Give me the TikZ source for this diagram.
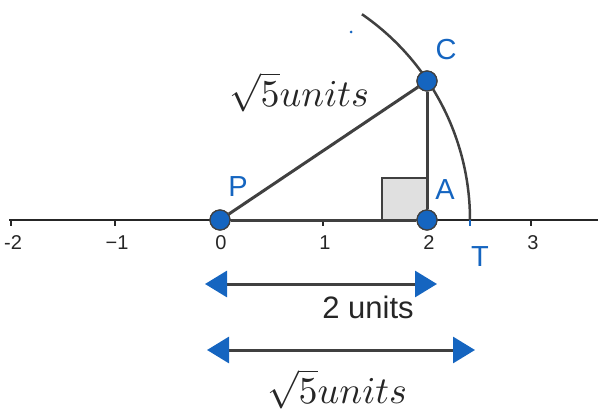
\documentclass[tikz,border=0pt]{standalone}
\usepackage{fontspec}
\setmainfont{Liberation Sans}
\usetikzlibrary{arrows.meta}
\definecolor{ptblue}{HTML}{1565C0}
\definecolor{lgray}{HTML}{404040}
\begin{document}
\begin{tikzpicture}[x=1pt,y=-1pt,
  pt/.style={circle,fill=ptblue,draw=lgray,line width=1.2pt,minimum size=20pt,inner sep=0pt},
  lbl/.style={text=ptblue,font=\fontsize{29}{32}\selectfont,inner sep=0pt},
  tick/.style={font=\fontsize{20}{22}\selectfont,inner sep=0pt,text=black!85},
  seg/.style={draw=lgray,line width=3pt},
  dimarrow/.style={lgray,line width=3pt,{Triangle[length=22pt,width=26pt,color=ptblue]}-{Triangle[length=22pt,width=26pt,color=ptblue]}},
  mathlbl/.style={scale=3.8,inner sep=0pt,text=black!85}]
\useasboundingbox (0,0) rectangle (598,412);
% axis
\coordinate (axL) at (9,220);
\coordinate (axR) at (598,220);
\draw[black!85,line width=1.3pt] (axL) -- (axR);
\foreach \x/\t in {11/{-2},115/{−1},219/0,323/1,427/2,531/3}{
  \draw[black!85,line width=1.3pt] (\x,220) -- (\x,226);
  \node[tick] at (\x+2,243) {\t};
}
% right angle mark
\filldraw[fill=black!12,draw=lgray,line width=2pt] (382,178) rectangle (427,220);
% points
\coordinate (Pc) at (220,220);
% arc
\draw[lgray,line width=2.5pt] (Pc) ++(-55.4:250) arc[start angle=-55.4,end angle=0,radius=250] coordinate (Tc);
\draw[ptblue,line width=2pt] (Tc) -- ++(0,6);
\fill[ptblue] (351,32) circle (1.5);
\node[pt] (P) at (220,220) {};
\node[pt] (A) at (427,220) {};
\node[pt] (C) at (427,81) {};
\draw[seg] (P) -- (A);
\draw[seg] (A) -- (C);
\draw[seg] (C) -- (P);
\node[pt] at (P) {};
\node[pt] at (A) {};
\node[pt] at (C) {};
% labels
\node[lbl] (lP) at (238,187) {P};
\node[lbl] (lA) at (445,190) {A};
\node[lbl] (lC) at (446,50) {C};
\node[lbl] (lT) at (480,257) {T};
\node[mathlbl] (hyp) at (299,92) {$\sqrt{5}units$};
% dimension arrows
\coordinate (a1l) at (205,284);
\coordinate (a1r) at (437,284);
\coordinate (a2l) at (207,350);
\coordinate (a2r) at (475,350);
\draw[dimarrow] (a1l) -- (a1r);
\draw[dimarrow] (a2l) -- (a2r);
\node[font=\fontsize{31}{34}\selectfont,inner sep=0pt,text=black!85] (two) at (368,307) {2 units};
\node[mathlbl] (root) at (337,389) {$\sqrt{5}units$};
\end{tikzpicture}
\end{document}
